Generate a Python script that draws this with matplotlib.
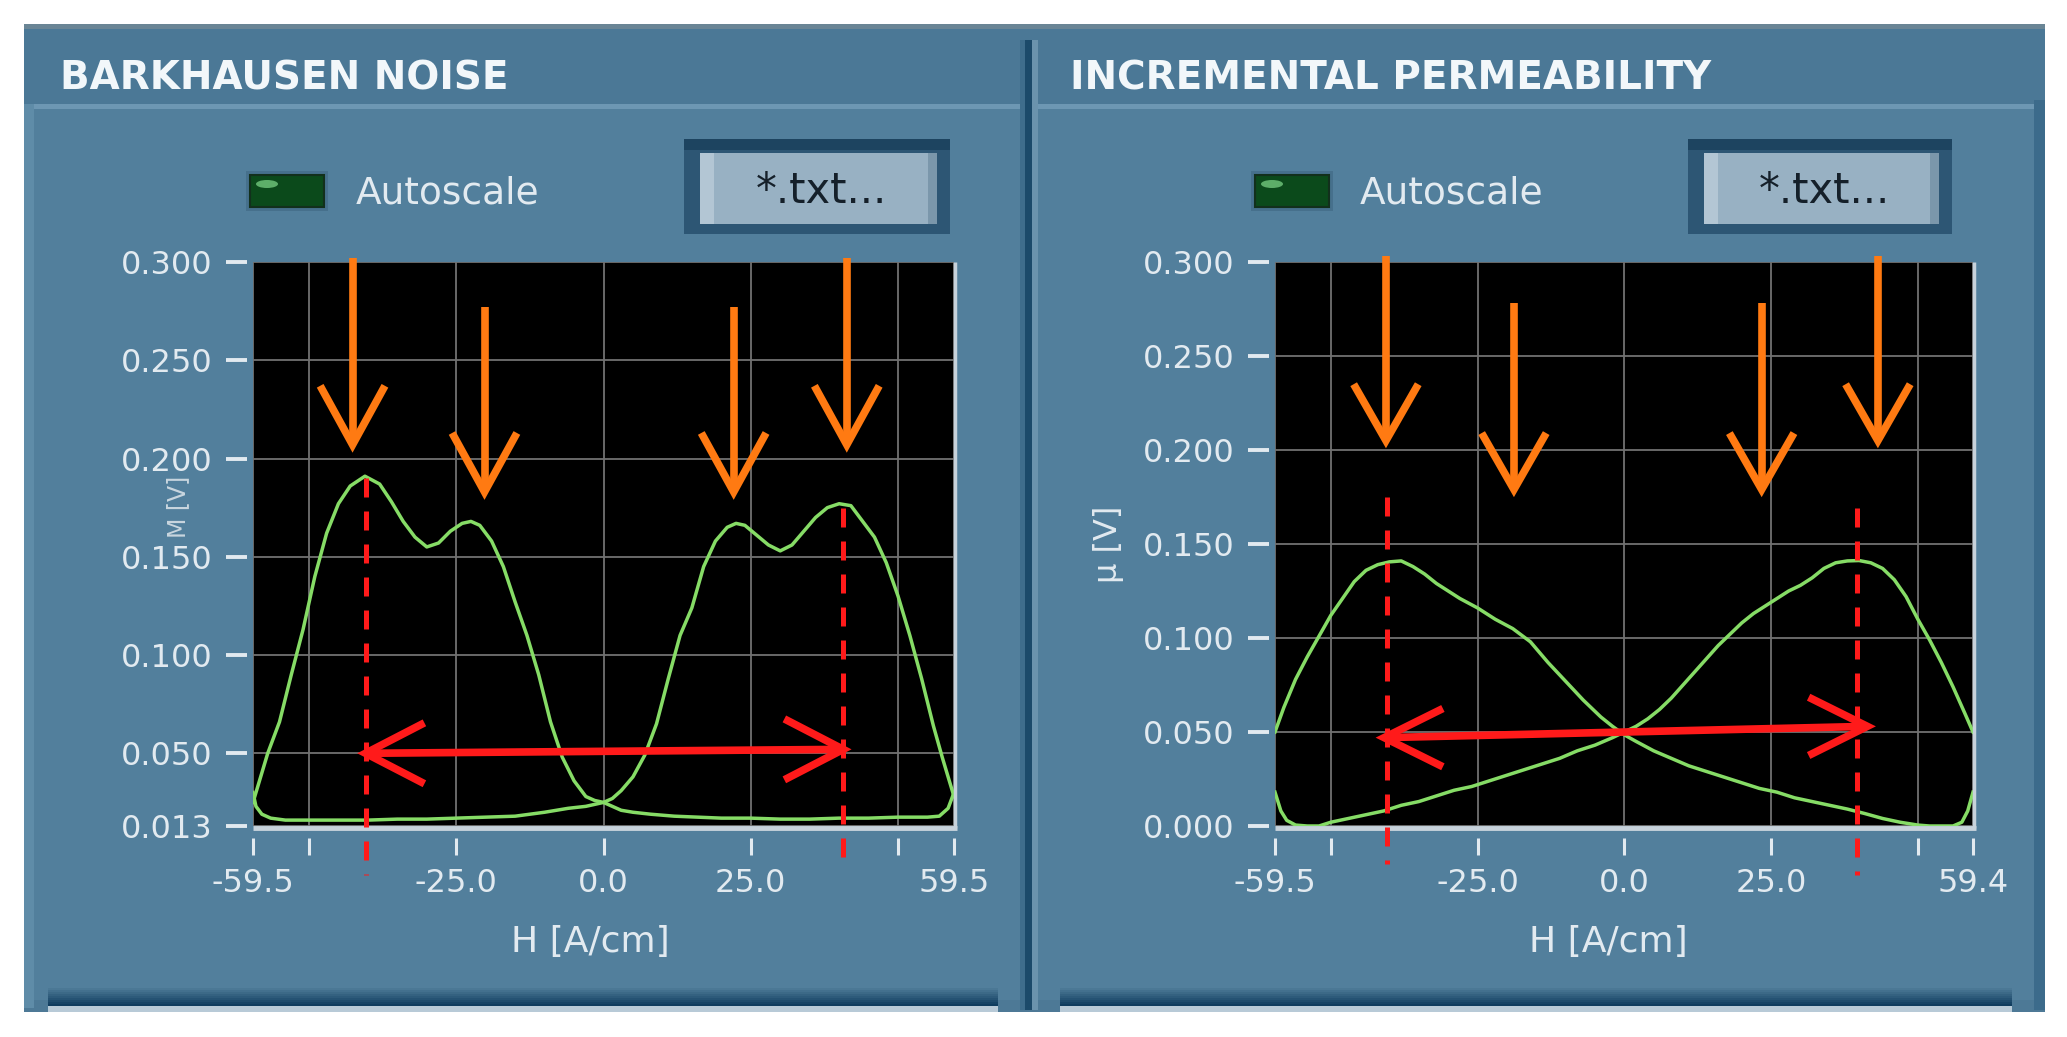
import numpy as np
import matplotlib
matplotlib.use("Agg")
import matplotlib.pyplot as plt
from matplotlib.patches import Rectangle, Ellipse
from matplotlib.ticker import FixedLocator, FixedFormatter
import matplotlib.font_manager as fm

# ---------------- data ----------------
# Barkhausen noise, branch with peaks on the negative side
bn1_h = [-59.5, -58.5, -57, -55, -53, -51, -49, -47, -45, -43, -40.5, -38, -36, -34, -32, -30,
         -28, -26, -24, -22.5, -21, -19, -17, -15, -13, -11, -9, -7, -5, -3, -1.5, 0,
         1.5, 3, 5, 8, 12, 16, 20, 25, 30, 35, 40, 45, 50, 55, 57, 58.5, 59.5]
bn1_m = [0.025, 0.035, 0.050, 0.066, 0.090, 0.113, 0.140, 0.162, 0.177, 0.186, 0.191, 0.187, 0.178,
         0.168, 0.160, 0.155, 0.157, 0.163, 0.167, 0.168, 0.166, 0.158, 0.145, 0.127, 0.110, 0.090,
         0.066, 0.048, 0.036, 0.028, 0.026, 0.025,
         0.023, 0.021, 0.020, 0.019, 0.018, 0.0175, 0.017, 0.017, 0.0165, 0.0165, 0.017, 0.017,
         0.0175, 0.0175, 0.018, 0.022, 0.030]
# Barkhausen noise, branch with peaks on the positive side
bn2_h = [-59.5, -59, -58, -56.5, -54, -50, -45, -40, -35, -30, -25, -20, -15, -10, -6, -3, -1.5, 0,
         1.5, 3, 5, 7, 9, 11, 13, 15, 17, 19, 21, 22.5, 24, 26, 28, 30, 32, 34, 36, 38, 40, 42, 44,
         46, 48, 50, 52, 54, 56, 57.5, 59, 59.5]
bn2_m = [0.030, 0.023, 0.019, 0.017, 0.016, 0.016, 0.016, 0.016, 0.0165, 0.0165, 0.017, 0.0175,
         0.018, 0.020, 0.022, 0.023, 0.024, 0.025,
         0.027, 0.031, 0.038, 0.049, 0.065, 0.088, 0.110, 0.124, 0.145, 0.158, 0.165, 0.167, 0.166,
         0.161, 0.156, 0.153, 0.156, 0.163, 0.170, 0.175, 0.177, 0.176, 0.168,
         0.160, 0.147, 0.130, 0.110, 0.088, 0.064, 0.048, 0.033, 0.028]
# Incremental permeability, branch A (peak at negative H)
ip1_h = [-59.5, -58, -56, -54, -52, -50, -48, -46, -44, -42, -40, -38, -36, -34, -32, -30, -28, -25,
         -22, -19, -16, -13, -10, -7, -4, -2, 0, 2, 5, 8, 11, 14, 17, 20, 23, 26, 29, 32, 35, 38,
         41, 44, 47, 50, 52, 54, 56, 57.5, 58.5, 59.4]
ip1_mu = [0.050, 0.063, 0.078, 0.090, 0.101, 0.112, 0.121, 0.130, 0.136, 0.139, 0.1405, 0.141,
          0.138, 0.134, 0.129, 0.125, 0.121, 0.116, 0.110, 0.105, 0.098, 0.087, 0.077, 0.067,
          0.058, 0.053, 0.0485, 0.045, 0.040, 0.036, 0.032, 0.029, 0.026, 0.023, 0.020, 0.018,
          0.015, 0.013, 0.011, 0.009, 0.0066, 0.004, 0.002, 0.0005, 0.0, 0.0, 0.0, 0.002, 0.008, 0.018]
# Incremental permeability, branch B (peak at positive H)
ip2_h = [-59.5, -58.5, -57.5, -56, -54, -52, -50, -47, -44, -41, -38, -35, -32, -29, -26, -23, -20,
         -17, -14, -11, -8, -5, -2, 0, 2, 4, 6, 8, 10, 12, 14, 16, 18, 20, 22, 24, 26, 28, 30, 32,
         34, 36, 38, 40, 42, 44, 46, 48, 50, 52, 54, 56, 58, 59.4]
ip2_mu = [0.018, 0.008, 0.003, 0.0005, 0.0, 0.0, 0.002, 0.004, 0.006, 0.008, 0.011, 0.013, 0.016,
          0.019, 0.021, 0.024, 0.027, 0.030, 0.033, 0.036, 0.040, 0.043, 0.047, 0.050, 0.053,
          0.057, 0.062, 0.068, 0.075, 0.082, 0.089, 0.096, 0.102, 0.108, 0.113, 0.117, 0.121,
          0.125, 0.128, 0.132, 0.137, 0.140, 0.141, 0.1412, 0.140, 0.137, 0.131, 0.122, 0.110,
          0.099, 0.087, 0.074, 0.060, 0.050]

# axes scales and tick labels
bn_xlim = (-59.5, 59.5)
ip_xlim = (-59.5, 59.4)
bn_xticks = [-59.5, -50, -25, 0, 25, 50, 59.5]
bn_xticklabels = ["-59.5", "", "-25.0", "0.0", "25.0", "", "59.5"]
ip_xticks = [-59.5, -50, -25, 0, 25, 50, 59.4]
ip_xticklabels = ["-59.5", "", "-25.0", "0.0", "25.0", "", "59.4"]
bn_yticks = [0.013, 0.050, 0.100, 0.150, 0.200, 0.250, 0.300]
bn_yticklabels = ["0.013", "0.050", "0.100", "0.150", "0.200", "0.250", "0.300"]
ip_yticks = [0.000, 0.050, 0.100, 0.150, 0.200, 0.250, 0.300]
ip_yticklabels = ["0.000", "0.050", "0.100", "0.150", "0.200", "0.250", "0.300"]

# annotation marks (orange arrows: x, top, tip ; red markers)
bn_arrow_x = [-42.6, -20.2, 22.1, 41.3]
bn_arrow_top = [0.302, 0.277, 0.277, 0.302]
bn_arrow_tip = [0.207, 0.183, 0.183, 0.207]
bn_peak_h = [-40.4, 40.7]
bn_dash_top = [0.190, 0.175]
bn_dash_bottom = [-0.012, -0.008]
bn_span_y = [0.050, 0.052]

ip_arrow_x = [-40.6, -18.8, 23.4, 43.2]
ip_arrow_top = [0.303, 0.278, 0.278, 0.303]
ip_arrow_tip = [0.205, 0.179, 0.179, 0.205]
ip_peak_h = [-40.4, 39.6]
ip_dash_top = [0.175, 0.169]
ip_dash_bottom = [-0.020, -0.026]
ip_span_y = [0.047, 0.053]
ip_span_x = [-40.9, 41.4]

# ---------------- style ----------------
plt.rcParams["axes.unicode_minus"] = False
plt.rcParams["font.family"] = ["DejaVu Sans"]

avail = {f.name for f in fm.fontManager.ttflist}
if "Liberation Sans Narrow" in avail:
    TITLE_FONT = dict(family=["Liberation Sans Narrow", "DejaVu Sans"], weight="bold", size=34)
else:
    TITLE_FONT = dict(family=["DejaVu Sans"], weight="bold", size=28)

TXT = "#e2eaf0"
PANEL = "#527f9c"
GREEN = "#86dc66"
ORANGE = "#ff7a12"
RED = "#ff1a1a"

W, H = 2067, 1037
fig = plt.figure(figsize=(W / 100, H / 100), dpi=100)
fig.patch.set_facecolor("white")

bg = fig.add_axes([0, 0, 1, 1])
bg.set_xlim(0, W)
bg.set_ylim(H, 0)
bg.axis("off")


def rect(x0, y0, x1, y1, color, z=0, **kw):
    bg.add_patch(Rectangle((x0, y0), x1 - x0, y1 - y0, facecolor=color,
                           edgecolor=kw.pop("ec", "none"), zorder=z, **kw))


def blend(c1, c2, t):
    a = np.array(matplotlib.colors.to_rgb(c1))
    b = np.array(matplotlib.colors.to_rgb(c2))
    return tuple(a + (b - a) * t)


# outer frame and header
rect(24, 24, 2045, 1012, "#4d7996")
rect(24, 24, 2045, 29, "#6a8595")
rect(24, 29, 2045, 104, "#4b7896")
rect(24, 104, 2045, 109, "#6d97b3")
# inner panels
rect(34, 109, 1020, 1000, PANEL)
rect(1038, 109, 2034, 1000, PANEL)
rect(24, 104, 34, 1008, "#5f8ca8")
# divider
rect(1020, 40, 1025, 1010, "#3f6d8c")
rect(1025, 40, 1032, 1010, "#1c4a6a")
rect(1032, 40, 1038, 1010, "#6b93ad")
rect(2034, 100, 2045, 1010, "#3c6b8b")
# bottom bands
for (bx0, bx1) in [(48, 998), (1060, 2012)]:
    n = 9
    for i in range(n):
        rect(bx0, 988 + i * 2, bx1, 990 + i * 2, blend(PANEL, "#0f3c5e", (i + 1) / n), z=1)
    rect(bx0, 1006, bx1, 1012, "#b8cad7", z=1)

# titles
bg.text(60, 90, "BARKHAUSEN NOISE", color="#f2f7fa", va="baseline", ha="left", **TITLE_FONT)
bg.text(1070, 90, "INCREMENTAL PERMEABILITY", color="#f2f7fa", va="baseline", ha="left", **TITLE_FONT)

# LED + Autoscale + button for both panels
for (led_x, txt_x, btn_x0, btn_x1) in [(250, 356, 684, 950), (1255, 1360, 1688, 1952)]:
    rect(led_x - 4, 171, led_x + 78, 211, "#46708c", z=2)
    rect(led_x, 175, led_x + 74, 207, "#0b4a1b", z=3, ec="#12301c", lw=1.5)
    bg.add_patch(Ellipse((led_x + 17, 184), 22, 8, facecolor="#6cc078", edgecolor="none",
                         alpha=0.85, zorder=4))
    bg.text(txt_x, 203, "Autoscale", color=TXT, fontsize=27, va="baseline", ha="left")
    rect(btn_x0, 139, btn_x1, 234, "#2d5674", z=2)
    rect(btn_x0, 139, btn_x1, 150, "#1d4460", z=2)
    rect(btn_x0 + 16, 153, btn_x1 - 13, 224, "#98b1c3", z=3)
    rect(btn_x0 + 16, 153, btn_x0 + 30, 224, "#b3c6d4", z=3)
    rect(btn_x1 - 22, 153, btn_x1 - 13, 224, "#7b97ab", z=3)
    bg.text((btn_x0 + btn_x1) / 2 + 4, 191, "*.txt...", color="#15202a", fontsize=30,
            va="center", ha="center", zorder=5)


def make_axes(x0, x1, xlim, ylim, xticks, xticklabels, yticks, yticklabels):
    ax = fig.add_axes([x0 / W, (H - 826) / H, (x1 - x0) / W, (826 - 262) / H])
    ax.set_facecolor("black")
    ax.set_xlim(*xlim)
    ax.set_ylim(*ylim)
    for s in ax.spines.values():
        s.set_visible(False)
    ax.spines["left"].set_position(("outward", 4.3))
    ax.spines["bottom"].set_position(("outward", 8.6))
    ax.xaxis.set_major_locator(FixedLocator(xticks))
    ax.xaxis.set_major_formatter(FixedFormatter(xticklabels))
    ax.yaxis.set_major_locator(FixedLocator(yticks))
    ax.yaxis.set_major_formatter(FixedFormatter(yticklabels))
    ax.tick_params(axis="y", direction="out", length=15, width=2.8, color=TXT,
                   labelcolor=TXT, labelsize=23, pad=10)
    ax.tick_params(axis="x", direction="out", length=12, width=2.2, color=TXT,
                   labelcolor=TXT, labelsize=23, pad=10)
    ax.grid(True, color="#727272", lw=1.3)
    ax.set_axisbelow(True)
    # light frame pieces (bottom and right edges)
    ax.plot([0, 1.004], [-0.004, -0.004], transform=ax.transAxes, color="#c7d2db", lw=3.5,
            clip_on=False, solid_capstyle="butt", zorder=6)
    ax.plot([1.002, 1.002], [-0.004, 1.0], transform=ax.transAxes, color="#c7d2db", lw=2.5,
            clip_on=False, solid_capstyle="butt", zorder=6)
    return ax


def orange_arrow(ax, x, ytop, ytip, dx=5.5, dy=0.030):
    kw = dict(color=ORANGE, lw=5.5, clip_on=False, zorder=8, solid_capstyle="butt",
              solid_joinstyle="miter")
    ax.plot([x, x], [ytop, ytip + 0.003], **kw)
    ax.plot([x - dx, x, x + dx], [ytip + dy, ytip, ytip + dy], **kw)


def red_marks(ax, xs, tops, bottoms, ys, tips_x=None):
    for x, t, b in zip(xs, tops, bottoms):
        ax.plot([x, x], [t, b], color=RED, lw=3.6, dashes=(3.8, 2.8), clip_on=False, zorder=9)
    tx = xs if tips_x is None else tips_x
    kw = dict(color=RED, lw=5.5, clip_on=False, zorder=9, solid_capstyle="butt",
              solid_joinstyle="miter")
    ax.plot([tx[0], tx[1]], [ys[0], ys[1]], **kw)
    ax.plot([tx[0] + 10, tx[0], tx[0] + 10], [ys[0] + 0.0155, ys[0], ys[0] - 0.0155], **kw)
    ax.plot([tx[1] - 10, tx[1], tx[1] - 10], [ys[1] + 0.0155, ys[1], ys[1] - 0.0155], **kw)


# ---------------- Barkhausen noise ----------------
ax1 = make_axes(253, 954, bn_xlim, (0.013, 0.300), bn_xticks, bn_xticklabels,
                bn_yticks, bn_yticklabels)
ax1.plot(bn1_h, bn1_m, color=GREEN, lw=2.5, zorder=5)
ax1.plot(bn2_h, bn2_m, color=GREEN, lw=2.5, zorder=5)
ax1.set_xlabel("H [A/cm]", color=TXT, fontsize=26)
ax1.xaxis.set_label_coords(0.481, -0.206)
ax1.xaxis.label.set_va("center")
ax1.set_ylabel("M [V]", color="#c9d6df", fontsize=17)
ax1.yaxis.set_label_coords(-0.107, 0.566)
ax1.yaxis.label.set_va("center")
for x, t, p in zip(bn_arrow_x, bn_arrow_top, bn_arrow_tip):
    orange_arrow(ax1, x, t, p)
red_marks(ax1, bn_peak_h, bn_dash_top, bn_dash_bottom, bn_span_y)

# ---------------- Incremental permeability ----------------
ax2 = make_axes(1275, 1973, ip_xlim, (0.0, 0.300), ip_xticks, ip_xticklabels,
                ip_yticks, ip_yticklabels)
ax2.plot(ip1_h, ip1_mu, color=GREEN, lw=2.5, zorder=5)
ax2.plot(ip2_h, ip2_mu, color=GREEN, lw=2.5, zorder=5)
ax2.set_xlabel("H [A/cm]", color=TXT, fontsize=26)
ax2.xaxis.set_label_coords(0.477, -0.206)
ax2.xaxis.label.set_va("center")
ax2.set_ylabel("\u03bc [V]", color=TXT, fontsize=23)
ax2.yaxis.set_label_coords(-0.238, 0.50)
ax2.yaxis.label.set_va("center")
for x, t, p in zip(ip_arrow_x, ip_arrow_top, ip_arrow_tip):
    orange_arrow(ax2, x, t, p)
red_marks(ax2, ip_peak_h, ip_dash_top, ip_dash_bottom, ip_span_y, tips_x=ip_span_x)

fig.savefig("out.png", dpi=100, facecolor="white")
